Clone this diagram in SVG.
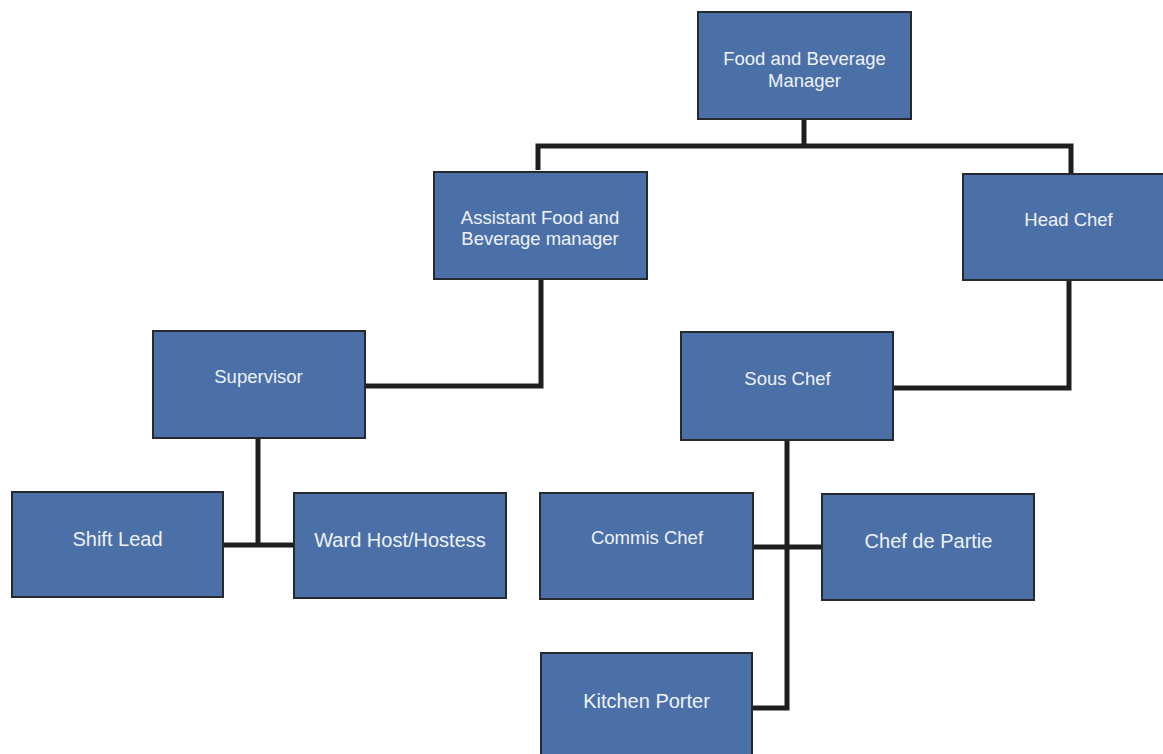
<svg xmlns="http://www.w3.org/2000/svg" width="1163" height="754" viewBox="0 0 1163 754">
<style>
.box{fill:#4b70a7;stroke:#262a30;stroke-width:2}
.lbl{font-family:"Liberation Sans",Arial,sans-serif;font-size:18.5px;fill:#eef2f8;text-anchor:middle}
.big{font-size:20px}
.conn{fill:none;stroke:#1e1e1e;stroke-width:5;stroke-linejoin:miter;stroke-linecap:butt}
</style>
<rect width="1163" height="754" fill="#ffffff"/>
<g id="connectors">
<path class="conn" d="M804 119 V146 M538 170 V146 H1071 V174"/>
<path class="conn" d="M541 279 V386 H365"/>
<path class="conn" d="M1069 280 V388 H893"/>
<path class="conn" d="M258 438 V545 M224 545 H294"/>
<path class="conn" d="M787 440 V708 H752 M753 547 H822"/>
</g>
<g id="fbm"><rect class="box" x="698" y="12" width="213" height="107"/><text class="lbl" x="804.5" y="65">Food and Beverage</text><text class="lbl" x="804.5" y="86.5">Manager</text></g>
<g id="afbm"><rect class="box" x="434" y="172" width="213" height="107"/><text class="lbl" x="540" y="224">Assistant Food and</text><text class="lbl" x="540" y="245">Beverage manager</text></g>
<g id="headchef"><rect class="box" x="963" y="174" width="215" height="106"/><text class="lbl" x="1068.5" y="226">Head Chef</text></g>
<g id="supervisor"><rect class="box" x="153" y="331" width="212" height="107"/><text class="lbl" x="258.5" y="383">Supervisor</text></g>
<g id="souschef"><rect class="box" x="681" y="332" width="212" height="108"/><text class="lbl" x="787.5" y="385">Sous Chef</text></g>
<g id="shiftlead"><rect class="box" x="12" y="492" width="211" height="105"/><text class="lbl big" x="117.5" y="546">Shift Lead</text></g>
<g id="wardhost"><rect class="box" x="294" y="493" width="212" height="105"/><text class="lbl big" x="400" y="547">Ward Host/Hostess</text></g>
<g id="commischef"><rect class="box" x="540" y="493" width="213" height="106"/><text class="lbl" x="647" y="544">Commis Chef</text></g>
<g id="chefdepartie"><rect class="box" x="822" y="494" width="212" height="106"/><text class="lbl big" x="928.5" y="548">Chef de Partie</text></g>
<g id="kitchenporter"><rect class="box" x="541" y="653" width="211" height="110"/><text class="lbl big" x="646.5" y="708">Kitchen Porter</text></g>
</svg>
